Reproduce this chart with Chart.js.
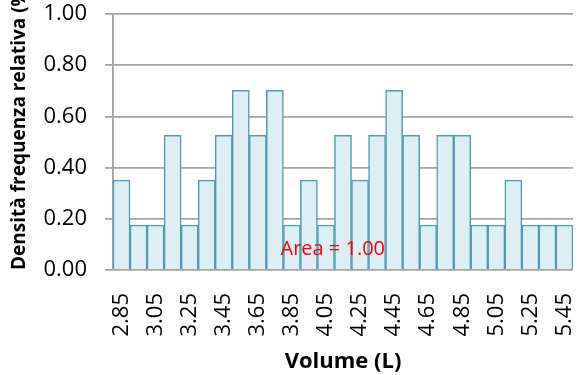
<!DOCTYPE html>
<html>
<head>
<meta charset="utf-8">
<script src="https://cdn.jsdelivr.net/npm/chart.js@4/dist/chart.umd.min.js"></script>
<style>
  html, body { margin: 0; padding: 0; background: #fff; }
  #wrap { width: 578px; height: 375px; position: relative; }
</style>
</head>
<body>
<div id="wrap"><canvas id="histo"></canvas></div>
<script>
// bin centres (L) and relative-frequency density per bin
const binLabels = ['2.85','2.95','3.05','3.15','3.25','3.35','3.45','3.55','3.65','3.75',
                   '3.85','3.95','4.05','4.15','4.25','4.35','4.45','4.55','4.65','4.75',
                   '4.85','4.95','5.05','5.15','5.25','5.35','5.45'];
const density = [0.351, 0.175, 0.175, 0.526, 0.175, 0.351, 0.526, 0.702, 0.526, 0.702,
                 0.175, 0.351, 0.175, 0.526, 0.351, 0.526, 0.702, 0.526, 0.175, 0.526,
                 0.526, 0.175, 0.175, 0.351, 0.175, 0.175, 0.175];
const yTicks = [0, 0.2, 0.4, 0.6, 0.8, 1.0];

// "Area = 1.00" note, placed in data units (bin index, density)
const noteText = 'Area = 1.00';
const noteAt = { x: 12.4, y: 0.08 };

Chart.defaults.font.family = "'Open Sans', sans-serif";
Chart.defaults.color = '#000';

const notePlugin = {
  id: 'note',
  afterDatasetsDraw(chart) {
    const c = chart.ctx;
    c.save();
    c.fillStyle = '#ff0000';
    c.font = "20px 'Open Sans', sans-serif";
    c.textAlign = 'center';
    c.textBaseline = 'middle';
    c.fillText(noteText, chart.scales.x.getPixelForValue(noteAt.x), chart.scales.y.getPixelForValue(noteAt.y));
    c.restore();
  }
};

// keep the plot box where the original has it: no extra label padding
function noPad(s) {
  s.paddingLeft = 0; s.paddingRight = 0; s.paddingTop = 0; s.paddingBottom = 0;
}

new Chart(document.getElementById('histo'), {
  type: 'bar',
  data: {
    labels: binLabels,
    datasets: [{
      data: density,
      backgroundColor: '#deeef5',
      borderColor: '#4b9db1',
      borderWidth: 1.5,
      barPercentage: 1,
      categoryPercentage: 1
    }]
  },
  options: {
    responsive: true,
    maintainAspectRatio: false,
    animation: false,
    layout: { padding: { top: 14, right: 5, left: 0, bottom: 0 } },
    plugins: { legend: { display: false }, tooltip: { enabled: false } },
    scales: {
      x: {
        grid: { display: false },
        border: { display: false },
        ticks: {
          autoSkip: false,
          minRotation: 90,
          maxRotation: 90,
          padding: 15,
          font: { size: 22 },
          callback: (v, i) => (i % 2 === 0 ? binLabels[i] : '')
        },
        title: {
          display: true,
          text: 'Volume (L)',
          font: { size: 22, weight: 'bold' },
          padding: { top: 0, bottom: 0 }
        },
        afterFit: s => { s.height = 105; noPad(s); }
      },
      y: {
        min: 0,
        max: 1,
        afterBuildTicks: s => { s.ticks = yTicks.map(v => ({ value: v })); },
        grid: { color: '#a3a3a3', lineWidth: 1.8, tickLength: 8 },
        border: { display: true, color: '#a3a3a3', width: 1.8 },
        ticks: {
          padding: 18,
          font: { size: 22 },
          callback: v => v.toFixed(2)
        },
        title: {
          display: true,
          text: 'Densità frequenza relativa (%)',
          align: 'start',
          font: { size: 19, weight: 'bold' },
          padding: { top: 8, bottom: 0 }
        },
        afterFit: s => { s.width = 113; noPad(s); }
      }
    }
  },
  plugins: [notePlugin]
});
</script>
</body>
</html>
